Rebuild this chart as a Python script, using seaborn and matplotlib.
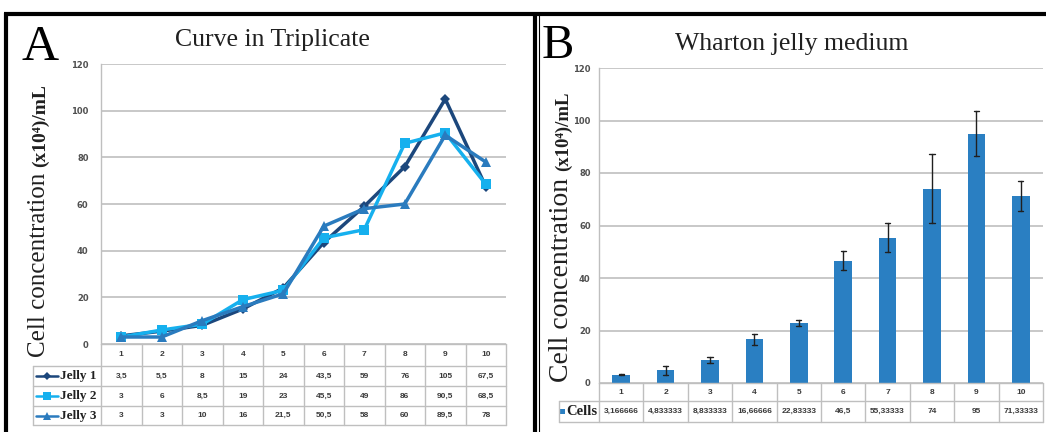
import matplotlib
matplotlib.use("Agg")
import matplotlib.pyplot as plt
import matplotlib.transforms as mtrans
from matplotlib.lines import Line2D
from matplotlib.patches import Rectangle
import numpy as np
import pandas as pd
import seaborn as sns

# ---------------- data ----------------
days = [1, 2, 3, 4, 5, 6, 7, 8, 9, 10]
jelly1 = [3.5, 5.5, 8, 15, 24, 43.5, 59, 76, 105, 67.5]
jelly2 = [3, 6, 8.5, 19, 23, 45.5, 49, 86, 90.5, 68.5]
jelly3 = [3, 3, 10, 16, 21.5, 50.5, 58, 60, 89.5, 78]
series_names = ["Jelly 1", "Jelly 2", "Jelly 3"]
cells_labels = ["3,166666", "4,833333", "8,833333", "16,66666", "22,83333",
                "46,5", "55,33333", "74", "95", "71,33333"]
y_ticks = [0, 20, 40, 60, 80, 100, 120]
title_a = "Curve in Triplicate"
title_b = "Wharton jelly medium"
ylabel_main = "Cell concentration "
ylabel_unit = "(x10\u2074)/mL"

# ---------------- style ----------------
sns.set_theme(style="white")
plt.rcParams["font.family"] = ["DejaVu Sans"]
SERIF = ["Liberation Serif", "DejaVu Serif"]
SANS = ["Liberation Sans", "DejaVu Sans"]
colors = {"Jelly 1": "#1C477C", "Jelly 2": "#16B0EE", "Jelly 3": "#2A7BBE"}
markers = {"Jelly 1": "D", "Jelly 2": "s", "Jelly 3": "^"}
msizes = {"Jelly 1": 5, "Jelly 2": 7.5, "Jelly 3": 7}
bar_color = "#2A7FC2"
grid_c = "#BFBFBF"
tick_c = "#505050"

W, H = 1046, 432
fig = plt.figure(figsize=(W / 100, H / 100), dpi=100)
fig.patch.set_facecolor("white")


def fx(x):
    return x / W


def fy(y):
    return 1 - y / H


def add_axes_px(l, t, r, b):
    return fig.add_axes([fx(l), fy(b), (r - l) / W, (b - t) / H])


def fig_line(x0, y0, x1, y1, **kw):
    fig.add_artist(Line2D([fx(x0), fx(x1)], [fy(y0), fy(y1)],
                          transform=fig.transFigure, **kw))


def style_axes(ax, pad):
    ax.set_ylim(0, 120)
    ax.set_yticks(y_ticks)
    ax.set_yticklabels([str(t) for t in y_ticks], fontsize=6,
                       fontweight="bold", color=tick_c)
    ax.tick_params(axis="y", length=0, pad=pad)
    ax.set_xticks([])
    ax.set_xlabel("")
    ax.set_ylabel("")
    ax.yaxis.grid(True, color=grid_c, linewidth=1.2)
    ax.set_axisbelow(True)
    for s in ["top", "right", "bottom"]:
        ax.spines[s].set_visible(False)
    ax.spines["left"].set_color(grid_c)
    ax.spines["left"].set_linewidth(1.0)


# ---------------- panel A: lines ----------------
axA = add_axes_px(101, 64, 506, 344)
series_vals = {"Jelly 1": jelly1, "Jelly 2": jelly2, "Jelly 3": jelly3}
for name in series_names:
    sns.lineplot(x=days, y=series_vals[name], color=colors[name],
                 marker=markers[name], markersize=msizes[name],
                 markeredgewidth=0, linewidth=2.5, ax=axA, legend=False)
axA.set_xlim(0.5, 10.5)
style_axes(axA, 9)

# ---------------- panel B: bars ----------------
axB = add_axes_px(599, 68, 1043, 383)
rep_df = pd.DataFrame({"Day": days * 3, "Value": jelly1 + jelly2 + jelly3})
sns.barplot(data=rep_df, x="Day", y="Value", errorbar="sd", color=bar_color,
            saturation=1, width=0.4, capsize=0.12, linewidth=0,
            err_kws={"color": "#202020", "linewidth": 1.0}, ax=axB)
axB.set_xlim(-0.5, 9.5)
style_axes(axB, 6)


# ---------------- tables ----------------
def fmt(v):
    s = ("%g" % v)
    return s.replace(".", ",")


tbl_kw = dict(color=grid_c, linewidth=1.0)
txt_kw = dict(fontsize=6, fontweight="bold", color="#3A3A3A",
              ha="center", va="center", family=SANS)


def draw_table(ax, xpos, ax_left, ax_right, lab_left, row_edges, rows):
    """row_edges: pixel y of lines; first interval is header row."""
    tr = mtrans.blended_transform_factory(ax.transData, fig.transFigure)
    top, bottom = row_edges[0], row_edges[-1]
    for i, y in enumerate(row_edges):
        x0 = ax_left if i == 0 else lab_left
        fig_line(x0, y, ax_right, y, **tbl_kw)
    for k in range(len(xpos) + 1):
        xd = xpos[0] - 0.5 + k
        fig.add_artist(Line2D([xd, xd], [fy(top), fy(bottom)],
                              transform=tr, **tbl_kw))
    fig_line(lab_left, row_edges[1], lab_left, bottom, **tbl_kw)
    yc = (row_edges[0] + row_edges[1]) / 2
    for xd, d in zip(xpos, days):
        fig.text(xd, fy(yc), str(d), transform=tr, **txt_kw)
    for r, (drawer, labels) in enumerate(rows):
        yc = (row_edges[r + 1] + row_edges[r + 2]) / 2
        for xd, s in zip(xpos, labels):
            fig.text(xd, fy(yc), s, transform=tr, **txt_kw)
        drawer(yc)


def legend_drawer(name):
    def _d(yc):
        fig.add_artist(Line2D([fx(36), fx(58)], [fy(yc), fy(yc)],
                              transform=fig.transFigure, color=colors[name],
                              linewidth=1.8))
        fig.add_artist(Line2D([fx(47)], [fy(yc)], transform=fig.transFigure,
                              color=colors[name], marker=markers[name],
                              markersize=msizes[name] * 0.8,
                              markeredgewidth=0, linestyle="none"))
        fig.text(fx(60), fy(yc), name, family=SERIF, fontsize=9.5,
                 fontweight="bold", color="#202020", ha="left", va="center")
    return _d


def cells_drawer(yc):
    fig.add_artist(Rectangle((fx(560), fy(yc + 2.5)), 5 / W, 5 / H,
                             transform=fig.transFigure, color=bar_color,
                             linewidth=0))
    fig.text(fx(566), fy(yc), "Cells", family=SERIF, fontsize=10.5,
             fontweight="bold", color="#202020", ha="left", va="center")


draw_table(axA, days, 101, 506, 33, [344, 366, 386, 406, 425],
           [(legend_drawer(n), [fmt(v) for v in series_vals[n]])
            for n in series_names])
draw_table(axB, list(range(10)), 599, 1043, 559, [383, 401, 422],
           [(cells_drawer, cells_labels)])

# ---------------- titles, letters ----------------
fig.text(fx(272), fy(46), title_a, family=SERIF, fontsize=18.5,
         ha="center", va="baseline", color="#202020")
fig.text(fx(792), fy(50), title_b, family=SERIF, fontsize=18.5,
         ha="center", va="baseline", color="#202020")
fig.text(fx(21), fy(60), "A", family=SERIF, fontsize=37, ha="left",
         va="baseline", color="black")
fig.text(fx(542), fy(58), "B", family=SERIF, fontsize=35, ha="left",
         va="baseline", color="black")

# ---------------- y labels ----------------
renderer = fig.canvas.get_renderer()


def ylabel(x_base, y_start, size_main, size_unit):
    t1 = fig.text(fx(x_base), fy(y_start), ylabel_main, family=SERIF,
                  fontsize=size_main, rotation=90, rotation_mode="anchor",
                  ha="left", va="baseline", color="#202020")
    h = t1.get_window_extent(renderer).height * 100 / fig.dpi
    fig.text(fx(x_base), fy(y_start - h), ylabel_unit, family=SERIF,
             fontsize=size_unit, fontweight="bold", rotation=90,
             rotation_mode="anchor", ha="left", va="baseline",
             color="#202020")


ylabel(45, 357, 18, 14)
ylabel(568, 382, 20, 13.5)

# ---------------- panel frames ----------------
frame_kw = dict(color="black", linewidth=3.0, solid_capstyle="butt")
fig_line(4, 14, W, 14, **frame_kw)
fig_line(6, 12.5, 6, H, **frame_kw)
fig_line(534.5, 12.5, 534.5, H, **frame_kw)
fig_line(538.5, 14, 538.5, H, color="black", linewidth=0.8)

fig.savefig("out.png", dpi=100, facecolor="white")
